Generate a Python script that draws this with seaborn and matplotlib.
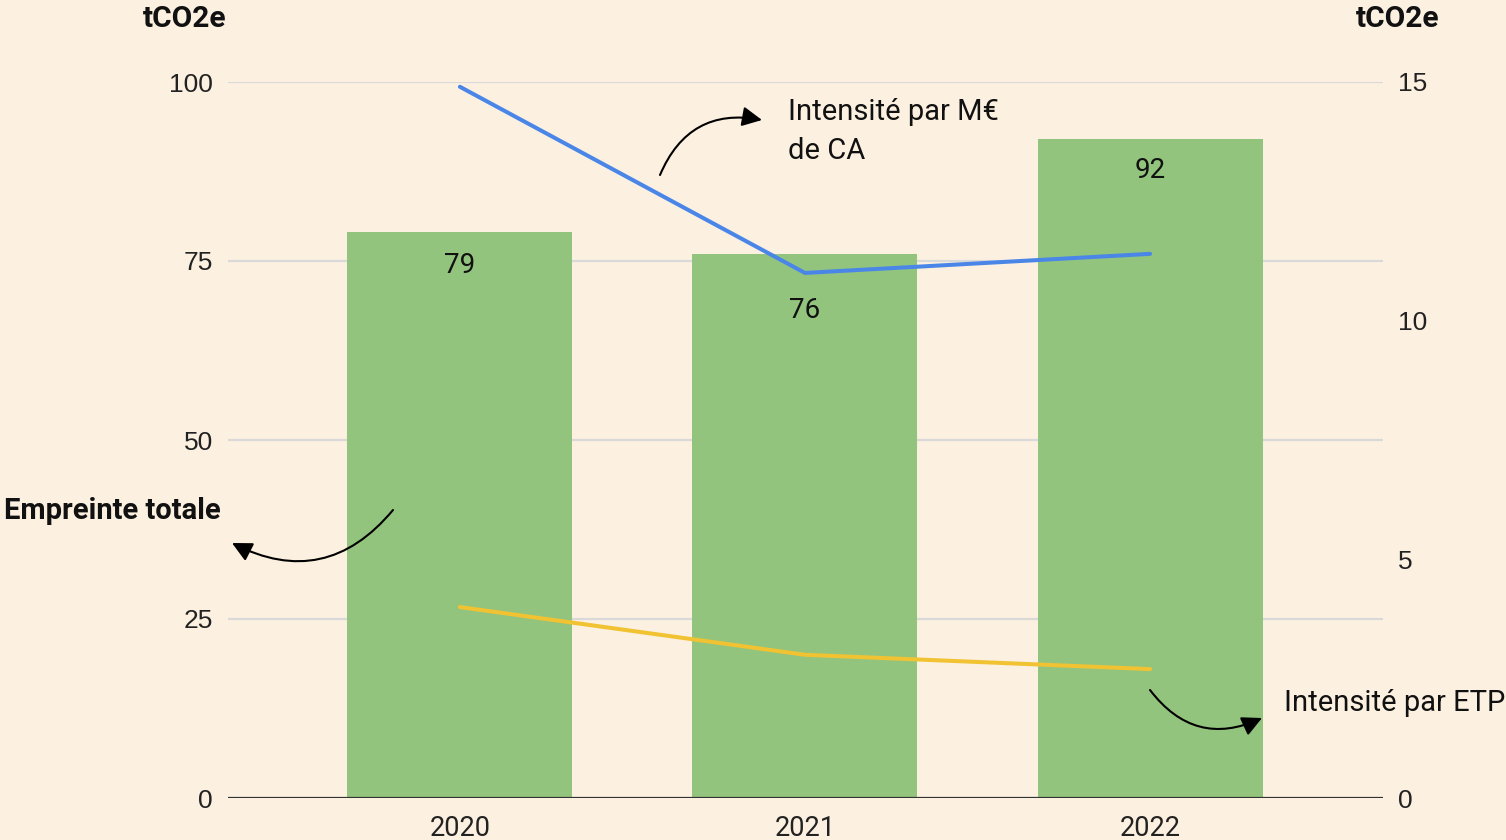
import matplotlib
matplotlib.use("Agg")
from matplotlib import pyplot as plt
import seaborn as sns
import pandas as pd

# Chart data
years = ["2020", "2021", "2022"]
total_footprint = [79, 76, 92]          # tCO2e, left axis
intensity_per_revenue = [14.9, 11.0, 11.4]  # tCO2e per M€ of revenue, right axis
intensity_per_fte = [4.0, 3.0, 2.7]         # tCO2e per FTE, right axis
left_ticks = [0, 25, 50, 75, 100]
right_ticks = [0, 5, 10, 15]

BG = "#FCF0E0"
GREEN = "#93C47D"
BLUE = "#4A86E8"
YELLOW = "#F1C232"

sns.set_theme(style="white")
plt.rcParams["font.family"] = ["Roboto", "DejaVu Sans"]

W, H = 1506, 840


def px(x, y):
    # reference pixel -> figure fraction
    return (x / W, 1 - y / H)


fig = plt.figure(figsize=(W / 100, H / 100), dpi=100, facecolor=BG)
ax = fig.add_axes([228 / W, 42 / H, (1383 - 228) / W, (798 - 82) / H])
ax.set_facecolor(BG)

df = pd.DataFrame({"year": years, "total": total_footprint})
sns.barplot(data=df, x="year", y="total", color=GREEN, width=0.652,
            saturation=1, edgecolor="none", linewidth=0, ax=ax, zorder=2)
ax.set_xlim(-0.672, 2.675)
ax.set_ylim(0, 100)
ax.set_yticks(left_ticks)
ax.set_yticklabels([str(t) for t in left_ticks], family="Liberation Sans", fontsize=19)
ax.set_xticks(range(len(years)))
ax.set_xticklabels(years, fontsize=19.5)
ax.tick_params(axis="both", length=0, colors="#222222")
ax.tick_params(axis="y", pad=11)
ax.tick_params(axis="x", pad=12)
ax.set_xlabel("")
ax.set_ylabel("")
for t in left_ticks[1:]:
    ax.axhline(t, color="#D9D9D9", linewidth=1.6, zorder=1)
ax.axhline(0, color="#333333", linewidth=1.6, zorder=3)
for s in ax.spines.values():
    s.set_visible(False)

# value labels inside the bars
label_offsets = [-33, -57, -31]
for i, (v, off) in enumerate(zip(total_footprint, label_offsets)):
    ax.annotate(str(v), xy=(i, v), xytext=(0, off), textcoords="offset pixels",
                ha="center", va="center", fontsize=20, color="#111111", zorder=5)

# intensity lines on the right axis
ax2 = ax.twinx()
ax2.set_ylim(0, 15)
sns.lineplot(x=list(range(len(years))), y=intensity_per_revenue, color=BLUE,
             linewidth=2.9, ax=ax2, zorder=4)
sns.lineplot(x=list(range(len(years))), y=intensity_per_fte, color=YELLOW,
             linewidth=2.9, ax=ax2, zorder=4)
ax2.set_xlim(-0.672, 2.675)
ax2.set_yticks(right_ticks)
ax2.set_yticklabels([str(t) for t in right_ticks], family="Liberation Sans", fontsize=19)
ax2.tick_params(axis="y", length=0, pad=11, colors="#222222")
ax2.set_ylabel("")
for s in ax2.spines.values():
    s.set_visible(False)

# axis unit titles
fig.text(*px(185, 19), "tCO2e", ha="center", va="center", fontsize=21.5,
         fontweight="bold", color="#111111")
fig.text(*px(1398, 19), "tCO2e", ha="center", va="center", fontsize=21.5,
         fontweight="bold", color="#111111")

# annotations with curved arrows
arrow = dict(arrowstyle="-|>,head_length=1.0,head_width=0.5", color="black",
             linewidth=1.5, shrinkA=0, shrinkB=0)
fig.text(*px(788, 98), "Intensité par M€\nde CA", ha="left", va="top",
         fontsize=21, linespacing=1.5, color="#111111")
fig.text(*px(4, 511), "Empreinte totale", ha="left", va="center",
         fontsize=21, fontweight="bold", color="#111111")
fig.text(*px(1284, 703), "Intensité par ETP", ha="left", va="center",
         fontsize=21, color="#111111")

ax.annotate("", xy=px(762, 120), xycoords="figure fraction",
            xytext=px(660, 175), textcoords="figure fraction",
            arrowprops=dict(arrow, connectionstyle="arc3,rad=-0.4"), zorder=6)
ax.annotate("", xy=px(232, 543), xycoords="figure fraction",
            xytext=px(393, 510), textcoords="figure fraction",
            arrowprops=dict(arrow, connectionstyle="arc3,rad=-0.4"), zorder=6)
ax.annotate("", xy=px(1262, 718), xycoords="figure fraction",
            xytext=px(1150, 690), textcoords="figure fraction",
            arrowprops=dict(arrow, connectionstyle="arc3,rad=0.4"), zorder=6)

fig.savefig("out.png", dpi=100, facecolor=BG)
